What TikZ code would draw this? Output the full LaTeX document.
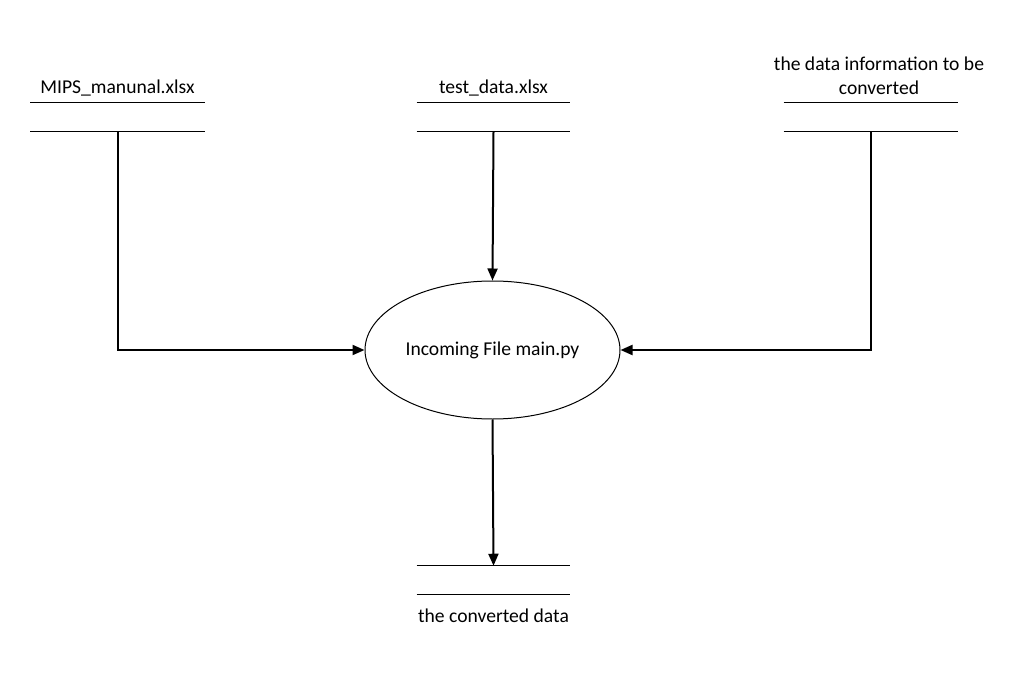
\documentclass[tikz,border=0pt]{standalone}
\usepackage{fontspec}
\setmainfont{Carlito}
\usetikzlibrary{arrows.meta,shapes.geometric}

\tikzset{
  txt/.style={font=\fontsize{14.7}{18}\selectfont, align=center, inner sep=0pt},
  store/.style={minimum height=21pt, inner sep=0pt},
  flow/.style={line width=1.5pt, -{Triangle[length=9pt, width=7.5pt]}}
}

\begin{document}
\begin{tikzpicture}[x=0.75pt, y=-0.75pt]

\useasboundingbox (0,0) rectangle (1016,673);

% data stores
\node (ms) at (117.5,117) [store, minimum width=130.5pt] {};
\node (td) at (493.5,117) [store, minimum width=114.75pt] {};
\node (di) at (871,117) [store, minimum width=130.5pt] {};
\node (cd) at (493.5,580) [store, minimum width=114.75pt] {};

\foreach \s in {ms, td, di, cd} {
  \draw [line width=1.1pt] (\s.north west) -- (\s.north east);
  \draw [line width=1.1pt] (\s.south west) -- (\s.south east);
}

\node (mslabel) at (117.5,88) [txt] {MIPS\_manunal.xlsx};
\node (tdlabel) at (493.5,88) [txt] {test\_data.xlsx};
\node (dilabel) at (879,76) [txt] {the data information to be\\converted};
\node (cdlabel) at (493.5,616) [txt] {the converted data};

% process
\node (proc) at (492.5,350) [draw, ellipse, line width=0.75pt, inner sep=0pt,
  minimum width=191.25pt, minimum height=103.5pt, txt] {Incoming File main.py};

\draw [flow] (ms.south) |- (proc.west);
\draw [flow] (td.south) -- (proc.north);
\draw [flow] (di.south) |- (proc.east);
\draw [flow] (proc.south) -- (cd.north);

\end{tikzpicture}
\end{document}
